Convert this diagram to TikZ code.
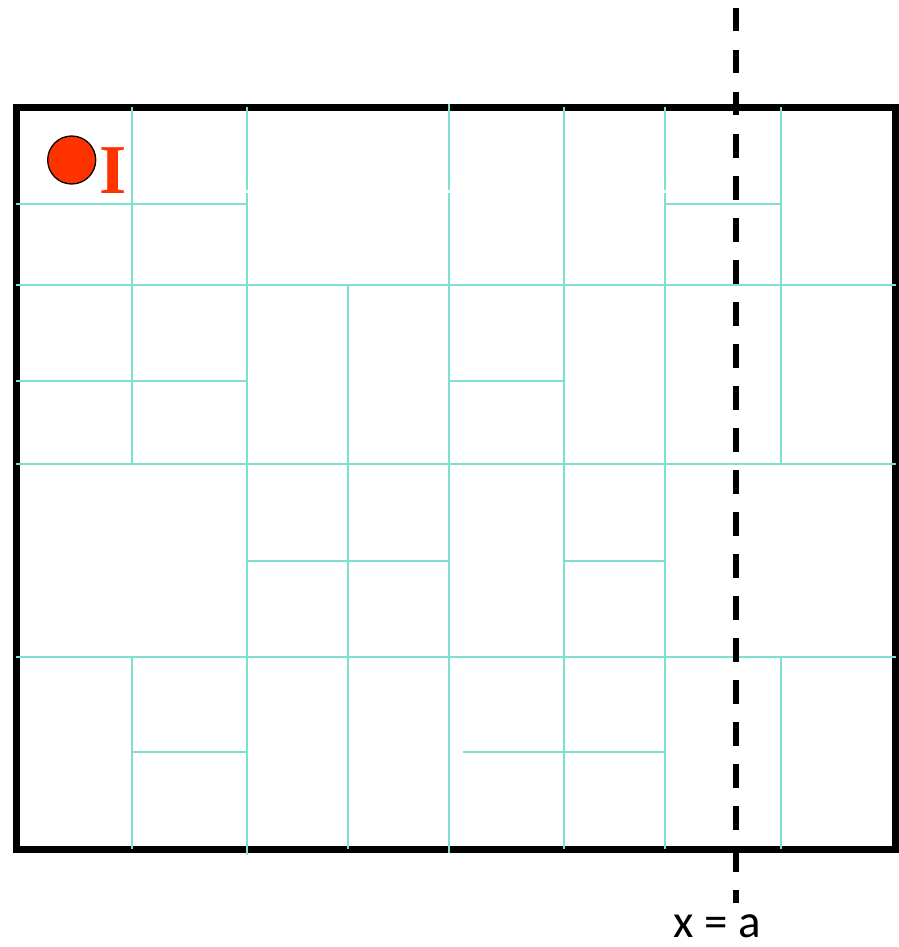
\documentclass[tikz,border=0pt]{standalone}
\usepackage{fontspec}
\setmainfont{Liberation Serif}
\newfontfamily\labelfont{Carlito}
\usetikzlibrary{positioning}

\definecolor{cellline}{RGB}{128,224,208}
\definecolor{pointred}{RGB}{255,51,0}

\begin{document}
\begin{tikzpicture}[
    x=1pt, y=-1pt,
    boundary/.style={draw=black, line width=7pt},
    cut/.style={draw=cellline, line width=2.2pt},
    mid/.style={draw=cellline, line width=2.6pt},
    query/.style={draw=black, line width=6pt, dash pattern=on 23.5pt off 18.5pt},
    lab/.style={anchor=base, inner sep=0pt}
]
\useasboundingbox (0,0) rectangle (898,947);

% ---- domain boundary ----
\draw[boundary] (16,107.5) rectangle (895,849);

% ---- full-width splits ----
\foreach \y in {285,464,657}
    \draw[mid] (16,\y) -- (896,\y);

% ---- vertical splits ----
\draw[cut] (132,107) -- (132,464) (132,657) -- (132,849);
\draw[cut] (247,107) -- (247,190) (247,193) -- (247,855);
\draw[cut] (348,285) -- (348,849);
\draw[cut] (449,104) -- (449,190) (449,193) -- (449,853);
\draw[cut] (564,107) -- (564,849);
\draw[cut] (665,107) -- (665,190) (665,193) -- (665,849);
\draw[cut] (781,107) -- (781,464) (781,657) -- (781,849);

% ---- horizontal splits ----
\draw[cut] (16,204) -- (247,204);
\draw[cut] (665,204) -- (781,204);
\draw[cut] (16,381) -- (247,381);
\draw[cut] (449,381) -- (564,381);
\draw[cut] (247,561) -- (449,561);
\draw[cut] (564,561) -- (665,561);
\draw[cut] (132,752) -- (247,752);
\draw[cut] (463,752) -- (665,752);

% ---- query line x = a ----
\draw[query] (736,8) -- (736,903);
\node[lab, font=\labelfont\fontsize{47}{47}\selectfont] (qlabel) at (717,937) {x = a};

% ---- point I ----
\draw[fill=pointred, line width=1.3pt] (71.7,160) circle (24);
\node[lab, text=pointred, font=\bfseries\fontsize{70}{70}\selectfont] (ilabel) at (113,193.3) {I};

\end{tikzpicture}
\end{document}
